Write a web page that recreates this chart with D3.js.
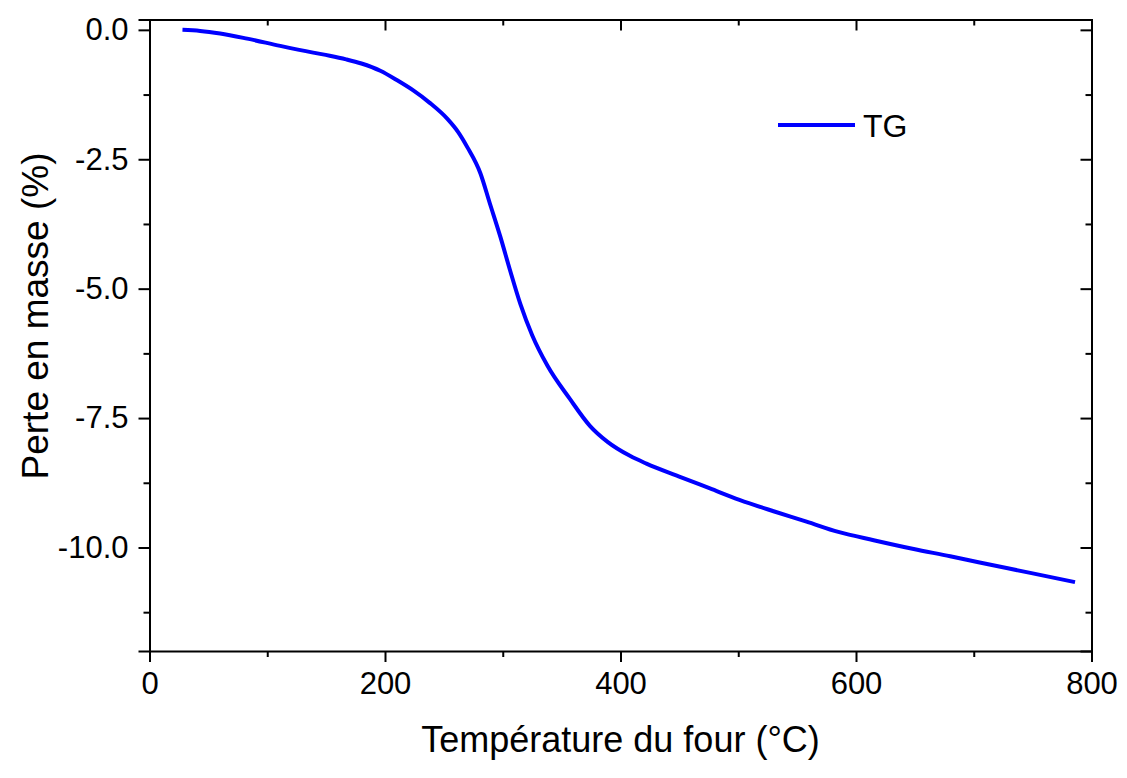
<!DOCTYPE html>
<html>
<head>
<meta charset="utf-8">
<script src="https://cdn.jsdelivr.net/npm/d3@7"></script>
<style>
  body { margin: 0; background: #fff; }
  svg { font-family: "Liberation Sans", Arial, sans-serif; }
</style>
</head>
<body>
<svg id="chart"></svg>
<script>
var width = 1127;
var height = 778;

// TG curve
var temperature = [28, 43, 60, 83, 111, 139, 153, 167, 180, 196, 210, 224, 238, 253, 262, 270, 281, 289, 298, 306, 315, 325, 338, 357, 374, 389, 408, 422, 451, 476, 501, 530, 558, 585, 615, 649, 680, 705, 748, 786];
var massLoss = [0, -0.02, -0.07, -0.17, -0.31, -0.44, -0.5, -0.57, -0.65, -0.79, -0.97, -1.17, -1.41, -1.72, -1.97, -2.27, -2.77, -3.35, -4.0, -4.63, -5.3, -5.9, -6.49, -7.13, -7.65, -7.96, -8.23, -8.38, -8.64, -8.86, -9.08, -9.3, -9.5, -9.7, -9.86, -10.03, -10.17, -10.29, -10.49, -10.67];

var xTicks = [0, 200, 400, 600, 800];
var xMinor = [100, 300, 500, 700];
var yTicks = [0, -2.5, -5, -7.5, -10];
var yMinor = [-1.25, -3.75, -6.25, -8.75, -11.25];

// plot frame (pixels)
var plotLeft = 149.5, plotRight = 1091.5, plotTop = 19.5, plotBottom = 651;

var svg = d3.select("#chart")
    .attr("width", width)
    .attr("height", height);

var x = d3.scaleLinear().domain([0, 800]).range([plotLeft, plotRight]);
var y = d3.scaleLinear().domain([-12, 0.2]).range([plotBottom, plotTop]);

// plain hyphen for negatives, like the original
var fmtY = function (d) { return d3.format(".1f")(d).replace("\u2212", "-"); };

// draw an axis with major + minor ticks
function drawAxis(axisFn, scale, transform, major, minor, labels, fmt) {
    var g = svg.append("g").attr("transform", transform);
    g.call(axisFn(scale).tickValues(major).tickSize(11).tickPadding(10)
        .tickFormat(labels ? fmt : ""));
    g.append("g").call(axisFn(scale).tickValues(minor).tickSize(6).tickFormat(""))
        .select(".domain").remove();
    g.selectAll("line").attr("stroke", "#000").attr("stroke-width", 2);
    g.selectAll(".domain").attr("stroke", "#000").attr("stroke-width", 2);
    g.selectAll("text").attr("fill", "#000").style("font-size", "31px");
    return g;
}

drawAxis(d3.axisBottom, x, "translate(0," + plotBottom + ")", xTicks, xMinor, true, d3.format("d"));
drawAxis(d3.axisBottom, x, "translate(0," + plotTop + ")", xTicks, xMinor, false);
drawAxis(d3.axisLeft, y, "translate(" + plotLeft + ",0)", yTicks, yMinor, true, fmtY);
drawAxis(d3.axisLeft, y, "translate(" + plotRight + ",0)", yTicks, yMinor, false);

// the curve
var line = d3.line()
    .x(function (d, i) { return x(temperature[i]); })
    .y(function (d) { return y(d); })
    .curve(d3.curveMonotoneX);

svg.append("path")
    .datum(massLoss)
    .attr("fill", "none")
    .attr("stroke", "#0000ff")
    .attr("stroke-width", 4)
    .attr("d", line);

// legend
svg.append("line")
    .attr("x1", 778).attr("x2", 855)
    .attr("y1", 125).attr("y2", 125)
    .attr("stroke", "#0000ff")
    .attr("stroke-width", 4);
svg.append("text")
    .attr("x", 863).attr("y", 125)
    .attr("dy", "0.36em")
    .style("font-size", "32px")
    .text("TG");

// axis titles
svg.append("text")
    .attr("x", (plotLeft + plotRight) / 2)
    .attr("y", 752)
    .attr("text-anchor", "middle")
    .style("font-size", "36px")
    .text("Température du four (°C)");

svg.append("text")
    .attr("transform", "translate(48,316) rotate(-90)")
    .attr("text-anchor", "middle")
    .style("font-size", "37px")
    .text("Perte en masse (%)");
</script>
</body>
</html>
